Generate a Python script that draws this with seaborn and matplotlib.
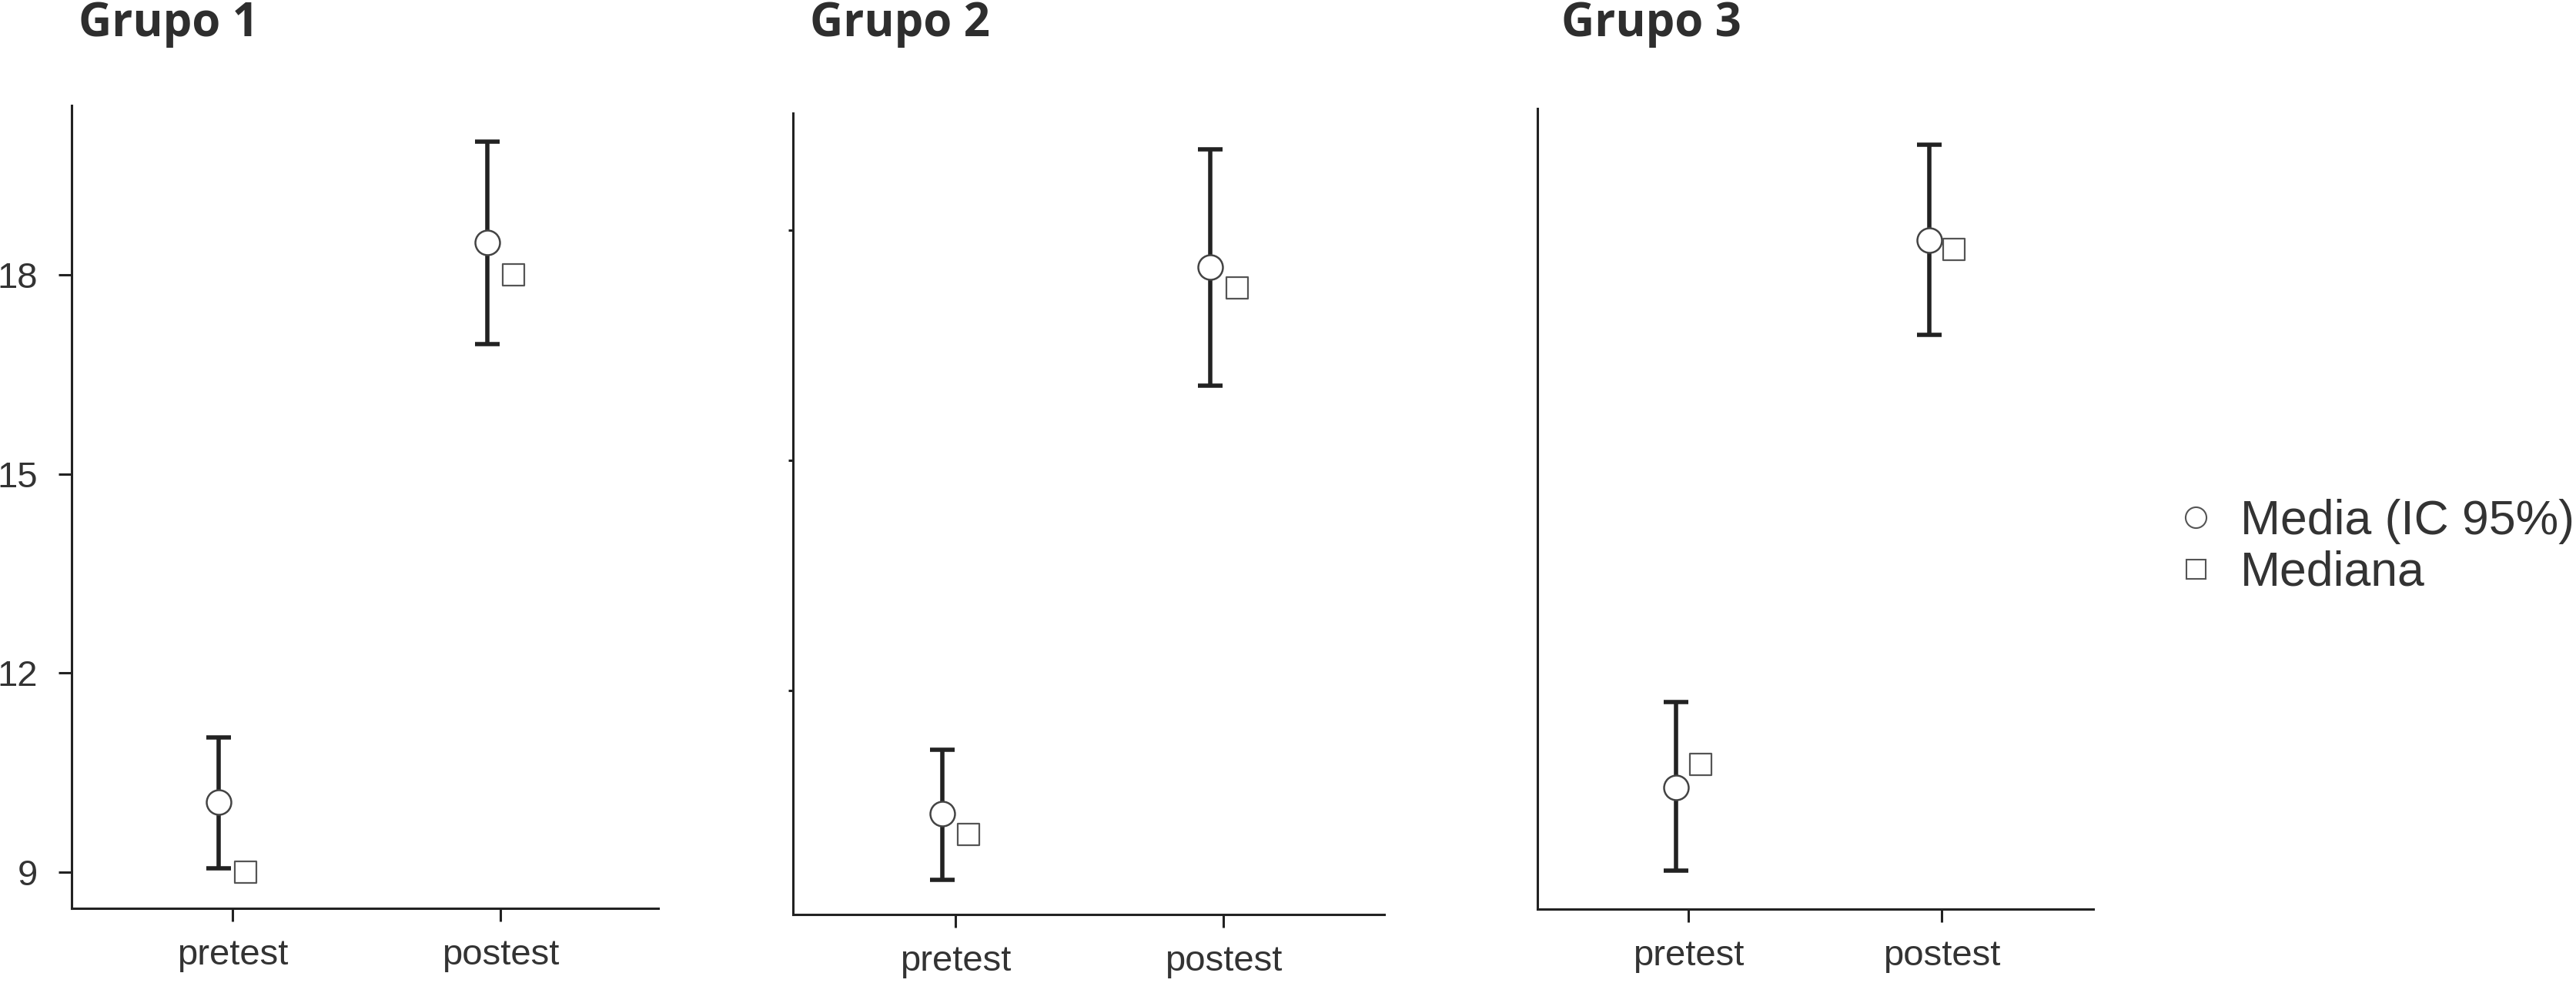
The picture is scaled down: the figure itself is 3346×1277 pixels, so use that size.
import matplotlib
matplotlib.use("Agg")
import matplotlib.pyplot as plt
from matplotlib.lines import Line2D
import numpy as np
import pandas as pd
import seaborn as sns

# datos
grupos = ["Grupo 1", "Grupo 2", "Grupo 3"]
momentos = ["pretest", "postest"]

media_g1 = [10.06, 18.49]
ic_inf_g1 = [9.06, 16.95]
ic_sup_g1 = [11.03, 20.00]
mediana_g1 = [9.0, 18.0]

media_g2 = [10.39, 17.52]
ic_inf_g2 = [9.53, 15.97]
ic_sup_g2 = [11.23, 19.05]
mediana_g2 = [10.12, 17.25]

media_g3 = [10.25, 18.50]
ic_inf_g3 = [9.00, 17.07]
ic_sup_g3 = [11.54, 19.94]
mediana_g3 = [10.60, 18.36]

etiquetas_leyenda = ["Media (IC 95%)", "Mediana"]

W, H = 3346, 1277
sns.set_theme(style="ticks")
plt.rcParams["font.family"] = ["Liberation Sans", "DejaVu Sans"]

fig = plt.figure(figsize=(W / 100, H / 100), dpi=100)


def rect(left, top, right, bottom):
    return [left / W, 1 - bottom / H, (right - left) / W, (bottom - top) / H]


paneles = [
    dict(media=media_g1, inf=ic_inf_g1, sup=ic_sup_g1, mediana=mediana_g1,
         rect=rect(93, 137, 855, 1180), ylim=(8.455, 20.55), xlim=(-0.60, 1.589),
         yticks=[9, 12, 15, 18], ylabels=True, ylen=12, title_x=102),
    dict(media=media_g2, inf=ic_inf_g2, sup=ic_sup_g2, mediana=mediana_g2,
         rect=rect(1030, 146.6, 1798, 1188), ylim=(9.08, 19.53), xlim=(-0.606, 1.60),
         yticks=[12, 15, 18], ylabels=False, ylen=4, title_x=1052),
    dict(media=media_g3, inf=ic_inf_g3, sup=ic_sup_g3, mediana=mediana_g3,
         rect=rect(1997, 141, 2719, 1181), ylim=(8.42, 20.48), xlim=(-0.596, 1.599),
         yticks=[], ylabels=False, ylen=0, title_x=2028),
]

desp = 0.05
for grupo, p in zip(grupos, paneles):
    ax = fig.add_axes(p["rect"])
    df = pd.DataFrame({"momento": momentos, "media": p["media"], "inf": p["inf"],
                       "sup": p["sup"], "mediana": p["mediana"]})
    df["pos"] = np.arange(len(momentos))

    ax.errorbar(df["pos"] - desp, df["media"],
                yerr=[df["media"] - df["inf"], df["sup"] - df["media"]],
                fmt="none", ecolor="#222222", elinewidth=4, capsize=11.5, capthick=4,
                zorder=2)
    sns.scatterplot(x=df["pos"] - desp, y=df["media"], marker="o", s=23 ** 2,
                    color="white", edgecolor="#444444", linewidth=1.8, zorder=3,
                    clip_on=False, ax=ax)
    sns.scatterplot(x=df["pos"] + desp, y=df["mediana"], marker="s", s=20 ** 2,
                    color="white", edgecolor="#555555", linewidth=1.6, zorder=3,
                    clip_on=False, ax=ax)

    ax.set_xlim(p["xlim"])
    ax.set_ylim(p["ylim"])
    ax.set_xticks(df["pos"])
    ax.set_xticklabels(momentos)
    ax.set_yticks(p["yticks"])
    if not p["ylabels"]:
        ax.set_yticklabels([])
    ax.set_xlabel("")
    ax.set_ylabel("")

    sns.despine(ax=ax)
    for s in ["left", "bottom"]:
        ax.spines[s].set_linewidth(2.2)
        ax.spines[s].set_color("#222222")
    ax.tick_params(axis="x", direction="out", length=12, width=2.2, color="#222222",
                   labelsize=34, labelcolor="#333333", pad=16)
    ax.tick_params(axis="y", direction="out", length=p["ylen"], width=2.2,
                   color="#222222", labelsize=34, labelcolor="#333333", pad=20)
    ax.set_facecolor("white")

    fig.text(p["title_x"] / W, 1 - 47 / H, grupo, ha="left", va="baseline",
             fontsize=43, fontweight="bold", color="#2e2e2e",
             family=["Open Sans", "DejaVu Sans"])

handles = [
    Line2D([], [], marker="o", linestyle="none", markersize=19.5,
           markerfacecolor="white", markeredgecolor="#555555", markeredgewidth=1.5),
    Line2D([], [], marker="s", linestyle="none", markersize=18,
           markerfacecolor="white", markeredgecolor="#555555", markeredgewidth=1.5),
]
fig.legend(handles, etiquetas_leyenda, loc="center left",
           bbox_to_anchor=(2822 / W, 1 - 711 / H), frameon=False, fontsize=45,
           handlelength=0.95, handletextpad=0.45, labelspacing=0.12, borderpad=0,
           borderaxespad=0, labelcolor="#333333")

fig.savefig("out.png", dpi=100, facecolor="white")
